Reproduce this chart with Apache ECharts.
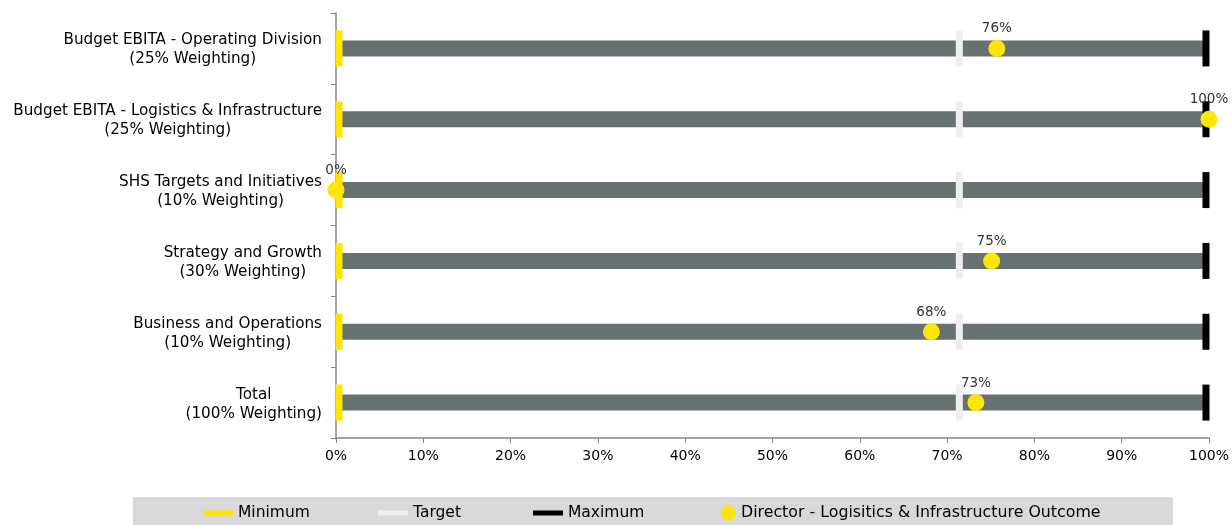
<!DOCTYPE html>
<html><head><meta charset="utf-8">
<script src="https://cdn.jsdelivr.net/npm/echarts@6/dist/echarts.min.js"></script>
<style>html,body{margin:0;padding:0;background:#fff}#c{width:1232px;height:525px}</style>
</head><body><div id="c"></div>
<script>
const categories = [
  ['Budget EBITA - Operating Division', '(25% Weighting)'],
  ['Budget EBITA - Logistics & Infrastructure', '(25% Weighting)'],
  ['SHS Targets and Initiatives', '(10% Weighting)'],
  ['Strategy and Growth', '(30% Weighting)'],
  ['Business and Operations', '(10% Weighting)'],
  ['Total', '(100% Weighting)']
];
const rangeMax = [100, 100, 100, 100, 100, 100];
const minimum = [0, 0, 0, 0, 0, 0];
const target = [71.4, 71.4, 71.4, 71.4, 71.4, 71.4];
const maximum = [100, 100, 100, 100, 100, 100];
const outcome = [75.7, 100, 0, 75.1, 68.2, 73.3];
const xTicks = [0, 10, 20, 30, 40, 50, 60, 70, 80, 90, 100];

const catNames = categories.map(c => c.join('\n'));
const FONT = "'DejaVu Sans', Verdana, sans-serif";
const chart = echarts.init(document.getElementById('c'), null, {renderer: 'canvas'});
const markerLegend = (name, left, icon, w, h, fs) => ({
  data: [name], left: left, top: 505, icon: icon, itemWidth: w, itemHeight: h,
  padding: 0, selectedMode: false,
  textStyle: {fontFamily: FONT, fontSize: fs, color: '#000'}
});
chart.setOption({
  animation: false,
  textStyle: {fontFamily: FONT},
  grid: {left: 336, right: 23, top: 13, bottom: 87, containLabel: false},
  graphic: [{type: 'rect', left: 133, top: 497, shape: {width: 1040, height: 28}, style: {fill: '#d9d9d9'}, z: -1}],
  legend: [
    markerLegend('Minimum', 203, 'rect', 30, 5, 15.5),
    markerLegend('Target', 378, 'rect', 30, 5, 15.5),
    markerLegend('Maximum', 533, 'rect', 30, 5, 15.5),
    markerLegend('Director - Logisitics & Infrastructure Outcome', 721, 'circle', 15, 15, 15.8)
  ],
  xAxis: {
    type: 'value', min: xTicks[0], max: xTicks[xTicks.length - 1], interval: 10,
    axisLine: {show: true, lineStyle: {color: '#868686', width: 1.5}},
    axisTick: {show: true, length: 5, lineStyle: {color: '#868686'}},
    splitLine: {show: false},
    axisLabel: {formatter: '{value}%', color: '#000', fontSize: 14, fontFamily: FONT, margin: 11}
  },
  yAxis: {
    type: 'category', inverse: true, data: catNames,
    axisLine: {show: true, lineStyle: {color: '#868686', width: 1.5}},
    axisTick: {show: true, length: 5, lineStyle: {color: '#868686'}},
    axisLabel: {
      color: '#000', fontSize: 15.2, fontFamily: FONT, margin: 14, lineHeight: 19,
      formatter: v => v.split('\n').map(s => '{c|' + s + '}').join('\n'),
      rich: {c: {align: 'center', fontSize: 15.2, fontFamily: FONT, color: '#000', lineHeight: 19, padding: [3, 0, 0, 0]}}
    }
  },
  series: [
    {type: 'bar', name: 'Range', data: rangeMax, barWidth: 16, itemStyle: {color: '#687171'}, silent: true},
    {type: 'scatter', name: 'Minimum', data: minimum, symbol: 'rect', symbolSize: [7, 36], symbolOffset: [3, 0], itemStyle: {color: '#ffe600', opacity: 1}},
    {type: 'scatter', name: 'Target', data: target, symbol: 'rect', symbolSize: [7, 36], itemStyle: {color: '#efefef', opacity: 1}},
    {type: 'scatter', name: 'Maximum', data: maximum, symbol: 'rect', symbolSize: [7, 36], symbolOffset: [-3, 0], itemStyle: {color: '#000', opacity: 1}},
    {type: 'scatter', name: 'Director - Logisitics & Infrastructure Outcome', data: outcome, symbol: 'circle', symbolSize: 17,
      itemStyle: {color: '#ffe600', opacity: 1},
      label: {show: true, position: 'top', distance: 4, fontSize: 13.5, fontFamily: FONT, color: '#333',
        formatter: p => Math.round(p.value) + '%'}}
  ]
});
</script></body></html>
